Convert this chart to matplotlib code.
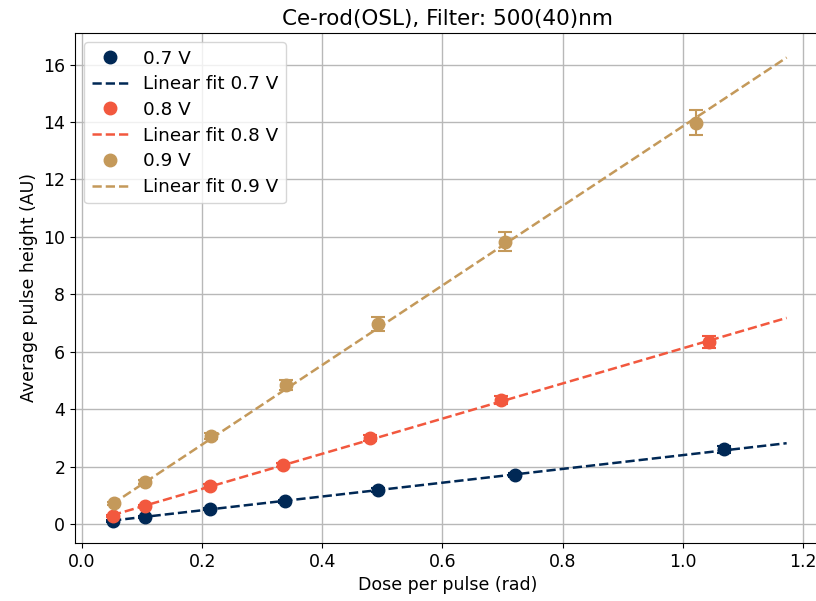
import numpy as np
import matplotlib
matplotlib.use("Agg")
import matplotlib.pyplot as plt

voltages = ["0.7 V", "0.8 V", "0.9 V"]
colors = ["#002855", "#F2583E", "#C4995A"]

dose_07 = [0.052, 0.104, 0.213, 0.338, 0.493, 0.720, 1.069]
height_07 = [0.10, 0.24, 0.52, 0.80, 1.18, 1.71, 2.61]
err_07 = [0.03, 0.04, 0.04, 0.05, 0.06, 0.08, 0.12]

dose_08 = [0.052, 0.104, 0.213, 0.335, 0.479, 0.697, 1.044]
height_08 = [0.28, 0.63, 1.32, 2.06, 3.00, 4.32, 6.34]
err_08 = [0.04, 0.05, 0.07, 0.08, 0.10, 0.14, 0.21]

dose_09 = [0.053, 0.105, 0.215, 0.340, 0.493, 0.704, 1.022]
height_09 = [0.73, 1.46, 3.07, 4.84, 6.97, 9.83, 13.98]
err_09 = [0.05, 0.07, 0.10, 0.16, 0.25, 0.33, 0.43]

fit_slope = [2.40, 6.12, 13.85]
fit_intercept = [0.0, 0.0, 0.0]
fit_range = [0.05, 1.173]

doses = [dose_07, dose_08, dose_09]
heights = [height_07, height_08, height_09]
errs = [err_07, err_08, err_09]

plt.rcParams['font.family'] = ['DejaVu Sans']
plt.rcParams['font.size'] = 12.5
fig = plt.figure(figsize=(8.16, 6.01), dpi=100)
ax = fig.add_axes([75/816, 58/601, (816-75)/816 + 0.006, (543-33)/601])

for v, c, x, y, e, m, b in zip(voltages, colors, doses, heights, errs, fit_slope, fit_intercept):
    ax.errorbar(x, y, yerr=e, fmt='none', ecolor=c, capsize=5, elinewidth=1.5, capthick=1.5)
    ax.plot(x, y, 'o', color=c, markersize=9, label=v)
    xf = np.linspace(fit_range[0], fit_range[1], 100)
    ax.plot(xf, m * xf + b, '--', color=c, linewidth=1.8, label=f"Linear fit {v}")

ax.set_xlim(-0.0117, 1.23)
ax.set_ylim(-0.66, 17.1)
ax.set_xticks([0.0, 0.2, 0.4, 0.6, 0.8, 1.0, 1.2])
ax.set_yticks([0, 2, 4, 6, 8, 10, 12, 14, 16])
ax.grid(True, color='#b8b8b8', linewidth=1.0)
ax.set_axisbelow(True)
ax.set_xlabel("Dose per pulse (rad)")
ax.set_ylabel("Average pulse height (AU)")
ax.set_title("Ce-rod(OSL), Filter: 500(40)nm", fontsize=15.5)
ax.legend(loc='upper left', fontsize=13.2, labelspacing=0.42)

fig.savefig("out.png", dpi=100)
